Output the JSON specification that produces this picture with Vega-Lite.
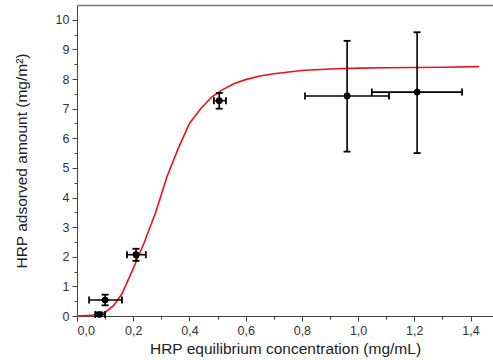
{
  "$schema": "https://vega.github.io/schema/vega-lite/v6.json",
  "autosize": "none",
  "width": 416,
  "height": 311,
  "padding": {"left": 77, "top": 5, "right": 0, "bottom": 44},
  "background": "white",
  "config": {
    "view": {"stroke": null},
    "font": "Liberation Sans",
    "axis": {"grid": false, "labelFont": "Liberation Sans", "titleFont": "Liberation Sans", "labelColor": "#333", "titleColor": "#222", "domainColor": "#444", "tickColor": "#444", "labelFontSize": 12.5, "titleFontSize": 15.5, "titleFontWeight": "normal"}
  },
  "datasets": {
    "pts": [
      {"x": 0.08, "y": 0.05, "xlo": 0.065, "xhi": 0.1, "ylo": 0.0, "yhi": 0.12},
      {"x": 0.1, "y": 0.54, "xlo": 0.043, "xhi": 0.16, "ylo": 0.36, "yhi": 0.72},
      {"x": 0.21, "y": 2.07, "xlo": 0.178, "xhi": 0.245, "ylo": 1.86, "yhi": 2.27},
      {"x": 0.506, "y": 7.27, "xlo": 0.487, "xhi": 0.53, "ylo": 7.0, "yhi": 7.53},
      {"x": 0.961, "y": 7.43, "xlo": 0.811, "xhi": 1.11, "ylo": 5.55, "yhi": 9.29},
      {"x": 1.21, "y": 7.56, "xlo": 1.049, "xhi": 1.37, "ylo": 5.5, "yhi": 9.58}
    ],
    "fit": [
      {"x": 0.0, "y": 0.0},
      {"x": 0.05, "y": 0.02},
      {"x": 0.1, "y": 0.12},
      {"x": 0.13, "y": 0.35},
      {"x": 0.16, "y": 0.75},
      {"x": 0.2, "y": 1.6},
      {"x": 0.24, "y": 2.5},
      {"x": 0.28, "y": 3.5},
      {"x": 0.32, "y": 4.7},
      {"x": 0.36, "y": 5.65},
      {"x": 0.4, "y": 6.5},
      {"x": 0.44, "y": 7.0},
      {"x": 0.48, "y": 7.4},
      {"x": 0.52, "y": 7.65},
      {"x": 0.56, "y": 7.85},
      {"x": 0.6, "y": 7.98},
      {"x": 0.65, "y": 8.1},
      {"x": 0.7, "y": 8.18},
      {"x": 0.8, "y": 8.29},
      {"x": 0.9, "y": 8.34},
      {"x": 1.0, "y": 8.37},
      {"x": 1.1, "y": 8.38},
      {"x": 1.2, "y": 8.39},
      {"x": 1.3, "y": 8.4},
      {"x": 1.43, "y": 8.42}
    ],
    "dummy": [{"x": 0, "y": 0}]
  },
  "resolve": {"axis": {"x": "independent", "y": "independent"}},
  "layer": [
    {
      "data": {"name": "dummy"},
      "mark": {"type": "point", "opacity": 0},
      "encoding": {
        "x": {"field": "x", "type": "quantitative", "scale": {"domain": [0, 1.48], "nice": false, "zero": false}, "axis": {"orient": "bottom", "values": [0, 0.2, 0.4, 0.6, 0.8, 1.0, 1.2, 1.4], "labelExpr": "replace(format(datum.value, '.1f'), '.', ',')", "tickSize": 5, "labelPadding": 3, "title": "HRP equilibrium concentration (mg/mL)", "titlePadding": 5}},
        "y": {"field": "y", "type": "quantitative", "scale": {"domain": [0, 10.5], "nice": false, "zero": false}, "axis": {"orient": "left", "values": [0, 1, 2, 3, 4, 5, 6, 7, 8, 9, 10], "tickSize": 5, "labelPadding": 3, "title": "HRP adsorved amount (mg/m²)", "titlePadding": 26}}
      }
    },
    {
      "data": {"name": "dummy"},
      "mark": {"type": "point", "opacity": 0},
      "encoding": {
        "x": {"field": "x", "type": "quantitative", "axis": {"orient": "bottom", "values": [0.1, 0.3, 0.5, 0.7, 0.9, 1.1, 1.3], "labels": false, "domain": false, "tickSize": 3, "title": null}},
        "y": {"field": "y", "type": "quantitative", "axis": {"orient": "left", "values": [0.5, 1.5, 2.5, 3.5, 4.5, 5.5, 6.5, 7.5, 8.5, 9.5], "labels": false, "domain": false, "tickSize": 3, "title": null}}
      }
    },
    {
      "data": {"name": "dummy"},
      "mark": {"type": "point", "opacity": 0},
      "encoding": {
        "x": {"field": "x", "type": "quantitative", "axis": {"orient": "top", "values": [], "labels": false, "ticks": false, "domainColor": "#777", "domainWidth": 1.5, "title": null}},
        "y": {"field": "y", "type": "quantitative", "axis": null}
      }
    },
    {
      "data": {"name": "fit"},
      "mark": {"type": "line", "color": "#e8141c", "strokeWidth": 1.6},
      "encoding": {
        "x": {"field": "x", "type": "quantitative", "axis": null},
        "y": {"field": "y", "type": "quantitative", "axis": null}
      }
    },
    {
      "data": {"name": "pts"},
      "mark": {"type": "rule", "color": "black", "strokeWidth": 1.6},
      "encoding": {
        "x": {"field": "x", "type": "quantitative", "axis": null},
        "y": {"field": "ylo", "type": "quantitative", "axis": null},
        "y2": {"field": "yhi"}
      }
    },
    {
      "data": {"name": "pts"},
      "mark": {"type": "rule", "color": "black", "strokeWidth": 1.6},
      "encoding": {
        "x": {"field": "xlo", "type": "quantitative", "axis": null},
        "x2": {"field": "xhi"},
        "y": {"field": "y", "type": "quantitative", "axis": null}
      }
    },
    {
      "data": {"name": "pts"},
      "mark": {"type": "tick", "color": "black", "orient": "horizontal", "size": 7, "thickness": 1.8, "opacity": 1},
      "encoding": {
        "x": {"field": "x", "type": "quantitative", "axis": null},
        "y": {"field": "ylo", "type": "quantitative", "axis": null}
      }
    },
    {
      "data": {"name": "pts"},
      "mark": {"type": "tick", "color": "black", "orient": "horizontal", "size": 7, "thickness": 1.8, "opacity": 1},
      "encoding": {
        "x": {"field": "x", "type": "quantitative", "axis": null},
        "y": {"field": "yhi", "type": "quantitative", "axis": null}
      }
    },
    {
      "data": {"name": "pts"},
      "mark": {"type": "tick", "color": "black", "orient": "vertical", "size": 7, "thickness": 1.8, "opacity": 1},
      "encoding": {
        "x": {"field": "xlo", "type": "quantitative", "axis": null},
        "y": {"field": "y", "type": "quantitative", "axis": null}
      }
    },
    {
      "data": {"name": "pts"},
      "mark": {"type": "tick", "color": "black", "orient": "vertical", "size": 7, "thickness": 1.8, "opacity": 1},
      "encoding": {
        "x": {"field": "xhi", "type": "quantitative", "axis": null},
        "y": {"field": "y", "type": "quantitative", "axis": null}
      }
    },
    {
      "data": {"name": "pts"},
      "mark": {"type": "circle", "color": "black", "size": 45, "opacity": 1},
      "encoding": {
        "x": {"field": "x", "type": "quantitative", "axis": null},
        "y": {"field": "y", "type": "quantitative", "axis": null}
      }
    }
  ]
}
